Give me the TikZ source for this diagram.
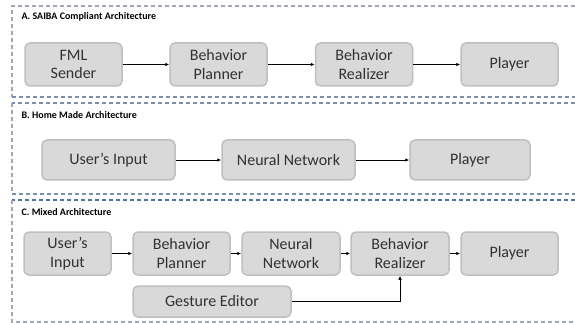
\documentclass[tikz,border=0pt]{standalone}
\usepackage{fontspec}
\setmainfont{Carlito}
\usetikzlibrary{positioning,arrows.meta}
\definecolor{BoxFill}{RGB}{217,217,217}
\definecolor{BoxBorder}{RGB}{191,191,191}
\definecolor{BoxText}{RGB}{50,50,50}
\definecolor{FrameGray}{RGB}{160,168,182}
\definecolor{FrameBlue}{RGB}{84,112,158}
\definecolor{FrameMid}{RGB}{125,143,172}

\begin{document}
\begin{tikzpicture}[x=1pt,y=-1pt,>=Latex,
		box/.style={draw=BoxBorder,fill=BoxFill,rounded corners=5pt,line width=1.5pt,
			minimum width=97pt,minimum height=43pt,align=center,text=BoxText,
			font=\fontsize{16}{18.5}\selectfont},
		paneltitle/.style={anchor=west,font=\fontsize{10}{12}\selectfont\bfseries,text=black},
		frame/.style={line width=1.1pt,dash pattern=on 4pt off 3pt},
		link/.style={black,line width=0.8pt,-{Latex[length=4pt,width=3.5pt]}}]
		\useasboundingbox (0,0) rectangle (575,323);
		\fill[white] (0,0) rectangle (575,323);
		
		% Panel A
		\draw[frame,FrameGray] (575,6)--(12,6)--(12,97);
		\draw[frame,FrameMid] (12,97)--(575,97);
		\node[paneltitle] (titleA) at (18,17) {A. SAIBA Compliant Architecture};
		\node[box] (fmlA) at (73.5,64.5) {FML\\Sender};
		\node[box] (planA) at (218.5,64.5) {Behavior\\Planner};
		\node[box] (realA) at (364,64.5) {Behavior\\Realizer};
		\node[box] (playA) at (509.5,64.5) {Player};
		\draw[link] (fmlA)--(planA);
		\draw[link] (planA)--(realA);
		\draw[link] (realA)--(playA);
		
		% Panel B
		\draw[frame,FrameMid] (575,103)--(12,103);
		\draw[frame,FrameGray] (12,103)--(12,194);
		\draw[frame,FrameMid] (12,194)--(575,194);
		\node[paneltitle] (titleB) at (18,115) {B. Home Made Architecture};
		\node[box,minimum width=133pt,minimum height=40pt] (inputB) at (108.5,160) {User’s Input};
		\node[box,minimum width=133pt,minimum height=40pt] (netB) at (288.5,160) {Neural Network};
		\node[box,minimum width=120pt,minimum height=40pt] (playB) at (470,160) {Player};
		\draw[link] (inputB)--(netB);
		\draw[link] (netB)--(playB);
		
		% Panel C
		\draw[frame,FrameBlue] (575,200)--(12,200);
		\draw[frame,FrameGray] (12,200)--(12,322)--(575,322);
		\node[paneltitle] (titleC) at (18,212) {C. Mixed Architecture};
		\node[box,minimum width=87pt] (inputC) at (67.5,253.5) {User’s\\Input};
		\node[box] (planC) at (181.5,253.5) {Behavior\\Planner};
		\node[box,minimum width=98pt] (netC) at (291,253.5) {Neural\\Network};
		\node[box,minimum width=98pt] (realC) at (400,253.5) {Behavior\\Realizer};
		\node[box] (playC) at (509.5,253.5) {Player};
		\node[box,minimum width=158pt,minimum height=31pt] (gestC) at (212,301.5) {Gesture Editor};
		\draw[link] (inputC)--(planC);
		\draw[link] (planC)--(netC);
		\draw[link] (netC)--(realC);
		\draw[link] (realC)--(playC);
		\draw[link] (gestC.east)-|(realC.south);
	\end{tikzpicture}
\end{document}
